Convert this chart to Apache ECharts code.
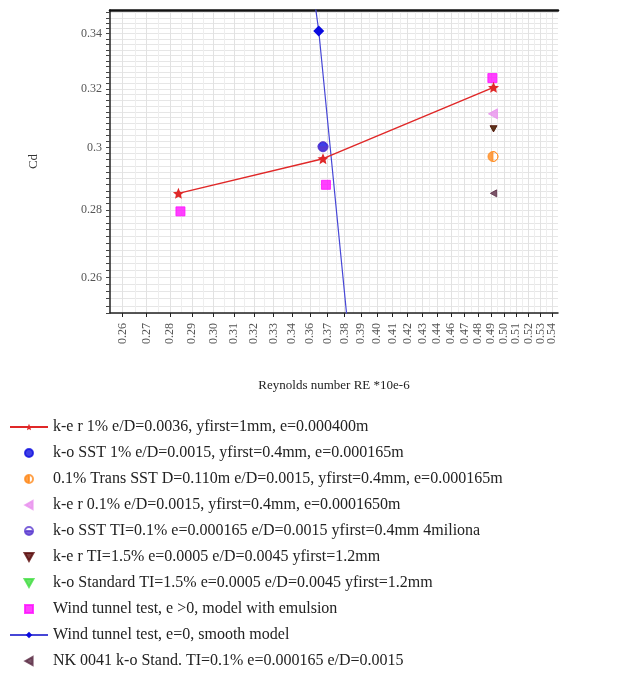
<!DOCTYPE html>
<html>
<head>
<meta charset="utf-8">
<title>Cd vs Reynolds number</title>
<script src="https://cdn.jsdelivr.net/npm/echarts@6/dist/echarts.min.js"></script>
<style>
html,body{margin:0;padding:0;background:#fff;}
#main{width:618px;height:675px;}
</style>
</head>
<body>
<div id="main"></div>
<script>
'use strict';

// x axis ticks (log scale), labels are the values rounded to 2 decimals
var xTickValues=[0.2556,0.2667,0.2778,0.2889,0.3,0.3111,0.3222,0.3333,0.3444,0.3556,0.3667,0.3778,0.3889,
    0.4,0.4111,0.4222,0.4333,0.4444,0.4556,0.4667,0.4778,0.4889,0.5,0.5111,0.5222,0.5333,0.5444];
var yLabelValues=[0.26,0.28,0.3,0.32,0.34];

// series values: Re *10e-6 / Cd
var keR1Re=[0.282,0.3637,0.491];
var keR1Cd=[0.2852,0.2963,0.3205];
var koSst1Re=[0.3637];
var koSst1Cd=[0.3002];
var transSstRe=[0.4905];
var transSstCd=[0.2970];
var keR01Re=[0.4905];
var keR01Cd=[0.3113];
var koSstTiRe=[0.3637];
var koSstTiCd=[0.3002];
var keRTiRe=[0.491];
var keRTiCd=[0.3062];
var koStdRe=[0.491];
var koStdCd=[0.3062];
var windEmulRe=[0.283,0.3656,0.490];
var windEmulCd=[0.2796,0.2879,0.3238];
var windSmoothRe=[0.355,0.361,0.381];
var windSmoothCd=[0.368,0.341,0.242];
var nk0041Re=[0.491];
var nk0041Cd=[0.2852];

var serifFont='"Liberation Serif","DejaVu Serif",serif';
// path symbols keep their aspect (and orientation) in the legend
var starPath='path://M10,0 L12.9,6.9 L20,7.6 L14.6,12.3 L16.2,19.5 L10,15.7 L3.8,19.5 L5.4,12.3 L0,7.6 L7.1,6.9 Z';
var leftTrianglePath='path://M0,10 L18,0 L18,20 Z';
var downTrianglePath='path://M0,0 L20,0 L10,18 Z';
var squarePath='path://M0,0 L20,0 L20,20 L0,20 Z';
// circle with only the lower half filled
var halfDownPath='path://M0,10 A10,10 0 1,1 20,10 A10,10 0 1,1 0,10 Z M0,10 L20,10 A10,10 0 0,0 0,10 Z';
// circle with only the left half filled
var halfLeftPath='path://M10,0 A10,10 0 1,1 10,20 A10,10 0 1,1 10,0 Z M10,0 L10,20 A10,10 0 0,0 10,0 Z';

function zip(xs,ys){
    var out=[];
    for(var i=0;i<xs.length;i++){
        out.push([xs[i],ys[i]]);
    }
    return out;
}

// labels are split over two bottom axes so echarts does not drop the crowded end labels
var xLabelsEven=xTickValues.filter(function(v,i){return i%2===0;});
var xLabelsOdd=xTickValues.filter(function(v,i){return i%2===1;});

// minor grid helpers
var xMidValues=[];
for(var i=0;i<xTickValues.length-1;i++){
    xMidValues.push((xTickValues[i]+xTickValues[i+1])/2);
}
var yTickValues=[];
for(var v=250;v<=350;v+=2){
    yTickValues.push(v/1000);
}

var chart=echarts.init(document.getElementById('main'));

function scatter(name,xs,ys,symbol,size,color,z){
    return {
        name:name,
        type:'scatter',
        data:zip(xs,ys),
        symbol:symbol,
        symbolSize:size,
        symbolKeepAspect:true,
        z:z||3,
        itemStyle:{color:color,borderColor:color,borderWidth:1}
    };
}

function xLabel(values){
    return {
        customValues:values,
        hideOverlap:false,
        rotate:90,
        margin:10,
        fontFamily:serifFont,
        fontSize:12,
        color:'#555',
        formatter:function(val){return val.toFixed(2);}
    };
}

var option={
    animation:false,
    backgroundColor:'#fff',
    grid:{left:110,right:60,top:10,bottom:362},
    xAxis:[
        {
            type:'log',
            min:0.25,
            max:0.55,
            position:'bottom',
            name:'Reynolds number RE *10e-6',
            nameLocation:'middle',
            nameGap:66,
            nameTextStyle:{fontFamily:serifFont,fontSize:13,color:'#222'},
            axisLine:{show:true,lineStyle:{color:'#222',width:1.5}},
            axisTick:{show:true,inside:false,length:4,customValues:xTickValues,lineStyle:{color:'#222'}},
            axisLabel:xLabel(xLabelsEven),
            splitLine:{show:true,lineStyle:{color:'#e2e2e2',width:1}}
        },
        {
            type:'log',
            min:0.25,
            max:0.55,
            position:'top',
            axisLine:{show:true,lineStyle:{color:'#111',width:2.5}},
            axisTick:{show:false,customValues:xMidValues},
            axisLabel:{show:false},
            splitLine:{show:true,lineStyle:{color:'#eeeeee',width:1}}
        },
        {
            type:'log',
            min:0.25,
            max:0.55,
            position:'bottom',
            axisLine:{show:false},
            axisTick:{show:false,customValues:xLabelsOdd},
            axisLabel:xLabel(xLabelsOdd),
            splitLine:{show:false}
        }
    ],
    yAxis:[
        {
            type:'log',
            min:0.25,
            max:0.349,
            name:'Cd',
            nameLocation:'middle',
            nameGap:70,
            nameRotate:90,
            nameTextStyle:{fontFamily:serifFont,fontSize:13,color:'#333'},
            axisLine:{show:true,lineStyle:{color:'#222',width:1.5}},
            axisTick:{show:true,inside:false,length:4,customValues:yTickValues,lineStyle:{color:'#444'}},
            axisLabel:{
                customValues:yLabelValues,
                margin:8,
                fontFamily:serifFont,
                fontSize:12,
                color:'#555',
                formatter:function(val){return String(+val.toFixed(2));}
            },
            splitLine:{show:true,lineStyle:{color:'#e6e6e6',width:1}}
        }
    ],
    legend:{
        orient:'vertical',
        left:4,
        top:414,
        itemWidth:38,
        itemHeight:8,
        itemGap:10,
        symbolKeepAspect:true,
        textStyle:{fontFamily:serifFont,fontSize:16,color:'#222'}
    },
    series:[
        {
            name:'k-e r 1% e/D=0.0036, yfirst=1mm, e=0.000400m',
            type:'line',
            data:zip(keR1Re,keR1Cd),
            symbol:starPath,
            symbolSize:11,
            z:4,
            lineStyle:{color:'#e02828',width:1.5},
            itemStyle:{color:'#e02828'}
        },
        scatter('k-o SST 1% e/D=0.0015, yfirst=0.4mm, e=0.000165m',koSst1Re,koSst1Cd,'circle',9,'#1010e0'),
        scatter('0.1% Trans SST D=0.110m e/D=0.0015, yfirst=0.4mm, e=0.000165m',transSstRe,transSstCd,halfLeftPath,10,'#ff8a1c'),
        scatter('k-e r 0.1% e/D=0.0015, yfirst=0.4mm, e=0.0001650m',keR01Re,keR01Cd,leftTrianglePath,10,'#e890ee'),
        scatter('k-o SST TI=0.1% e=0.000165 e/D=0.0015 yfirst=0.4mm 4miliona',koSstTiRe,koSstTiCd,halfDownPath,10,'#5a3ad0',5),
        scatter('k-e r TI=1.5% e=0.0005 e/D=0.0045 yfirst=1.2mm',keRTiRe,keRTiCd,downTrianglePath,7,'#5a0a0a',5),
        scatter('k-o Standard TI=1.5% e=0.0005 e/D=0.0045 yfirst=1.2mm',koStdRe,koStdCd,downTrianglePath,6,'#44dd44',2),
        scatter('Wind tunnel test, e >0, model with emulsion',windEmulRe,windEmulCd,squarePath,9,'#ff10ff'),
        {
            name:'Wind tunnel test, e=0, smooth model',
            type:'line',
            data:zip(windSmoothRe,windSmoothCd),
            symbol:'diamond',
            symbolSize:11,
            clip:true,
            lineStyle:{color:'#4646d6',width:1.2},
            itemStyle:{color:'#0a0ae0'}
        },
        scatter('NK 0041 k-o Stand. TI=0.1% e=0.000165 e/D=0.0015',nk0041Re,nk0041Cd,leftTrianglePath,7,'#5a2a44')
    ]
};

chart.setOption(option);
</script>
</body>
</html>
